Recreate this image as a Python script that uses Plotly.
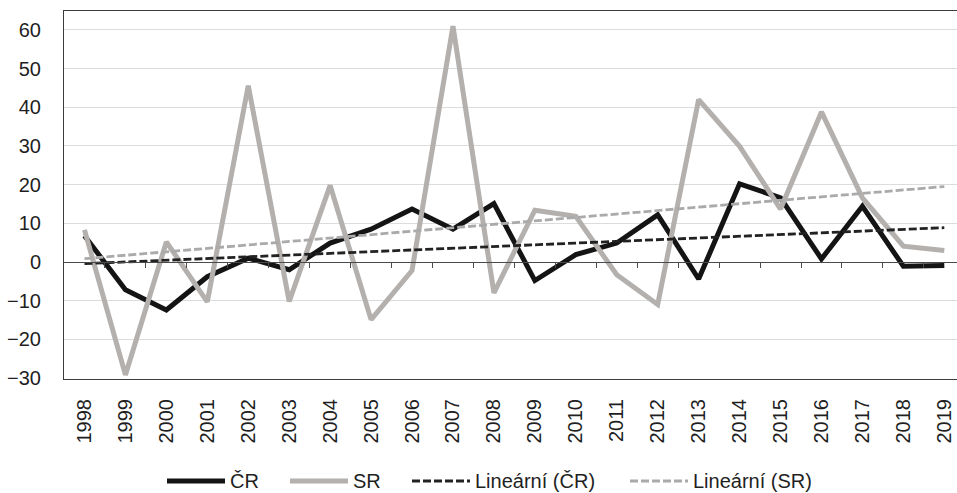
import numpy as np
import plotly.graph_objects as go

years = [str(y) for y in range(1998, 2020)]
cr_values = [6.8, -7.2, -12.4, -3.8, 1.0, -2.0, 4.9, 8.5, 13.7, 8.5, 15.1,
             -4.8, 1.9, 4.9, 12.2, -4.4, 20.2, 16.6, 0.8, 14.4, -1.1, -0.9]
sr_values = [8.3, -29.2, 5.2, -10.3, 45.6, -10.2, 19.8, -14.9, -2.2, 61.0, -8.0,
             13.4, 11.8, -3.3, -11.0, 42.0, 29.9, 13.7, 38.8, 16.6, 4.1, 3.0]
y_ticks = [-30, -20, -10, 0, 10, 20, 30, 40, 50, 60]
series_names = ["ČR", "SR", "Lineární (ČR)", "Lineární (SR)"]

x = np.arange(len(years))
y_range = [-30.25, 64.9]
x_range = [-0.5, len(years) - 1 + 0.31]

W, H = 957, 493
margin = {"l": 64, "r": 0, "t": 11, "b": 114}
plot_w = W - margin["l"] - margin["r"]
plot_h = H - margin["t"] - margin["b"]


def linear_trend(values):
    slope, intercept = np.polyfit(x, values, 1)
    return slope * x + intercept


font = "Liberation Sans, Arial, sans-serif"
text_color = "#1f1f1f"

styles = [
    {"color": "#141414", "width": 5},
    {"color": "#b3b0ae", "width": 5},
    {"color": "#222222", "width": 2.8, "dash": "8px,3px"},
    {"color": "#aaaaaa", "width": 2.8, "dash": "8px,3px"},
]
series = [cr_values, sr_values, linear_trend(cr_values), linear_trend(sr_values)]

fig = go.Figure()
for name, values, style in zip(series_names, series, styles):
    fig.add_trace(go.Scatter(x=x, y=values, mode="lines", name=name, line=style))
# helper trace so the axis drawn along y = 0 is rendered
fig.add_trace(go.Scatter(x=[None], y=[None], xaxis="x2", showlegend=False, hoverinfo="skip"))

zero_pos = (0 - y_range[0]) / (y_range[1] - y_range[0])

# legend drawn like the original: long line samples followed by the label
legend_y = (margin["t"] + plot_h - 481) / plot_h
legend_starts = [167, 290, 412, 630]
sample_len = 58
shapes = []
annotations = []
for name, style, start in zip(series_names, styles, legend_starts):
    x0 = (start - margin["l"]) / plot_w
    x1 = (start + sample_len - margin["l"]) / plot_w
    shapes.append({"type": "line", "xref": "paper", "yref": "paper",
                   "x0": x0, "x1": x1, "y0": legend_y, "y1": legend_y,
                   "line": style})
    annotations.append({"xref": "paper", "yref": "paper", "x": x1 + 3 / plot_w,
                        "y": legend_y, "xanchor": "left", "yanchor": "middle",
                        "text": name, "showarrow": False,
                        "font": {"size": 20, "color": text_color}})

fig.update_layout(
    width=W,
    height=H,
    margin=margin,
    plot_bgcolor="white",
    paper_bgcolor="white",
    font={"family": font, "size": 20, "color": text_color},
    showlegend=False,
    shapes=shapes,
    annotations=annotations,
    xaxis={
        "range": x_range,
        "tickmode": "array",
        "tickvals": list(x),
        "ticktext": years,
        "tickangle": -90,
        "showgrid": False,
        "zeroline": False,
        "showline": True,
        "mirror": True,
        "linecolor": "#3c3c3c",
        "linewidth": 1,
        "ticks": "outside",
        "ticklen": 11,
        "tickcolor": "rgba(0,0,0,0)",
    },
    xaxis2={
        "overlaying": "x",
        "anchor": "free",
        "position": zero_pos,
        "side": "bottom",
        "range": x_range,
        "tickmode": "array",
        "tickvals": list(x[:-1] + 0.5),
        "showticklabels": False,
        "showgrid": False,
        "zeroline": False,
        "showline": True,
        "linecolor": "#4a4a4a",
        "linewidth": 1,
        "ticks": "outside",
        "ticklen": 5,
        "tickcolor": "#4a4a4a",
    },
    yaxis={
        "range": y_range,
        "tickmode": "array",
        "tickvals": y_ticks,
        "showgrid": True,
        "gridcolor": "#dcdcdc",
        "gridwidth": 1,
        "zeroline": False,
        "showline": True,
        "mirror": True,
        "linecolor": "#3c3c3c",
        "linewidth": 1,
        "ticks": "outside",
        "ticklen": 18,
        "tickcolor": "rgba(0,0,0,0)",
    },
)

fig.write_html("out.html", config={"displayModeBar": False},
               post_script="document.body.style.margin = '0';")
